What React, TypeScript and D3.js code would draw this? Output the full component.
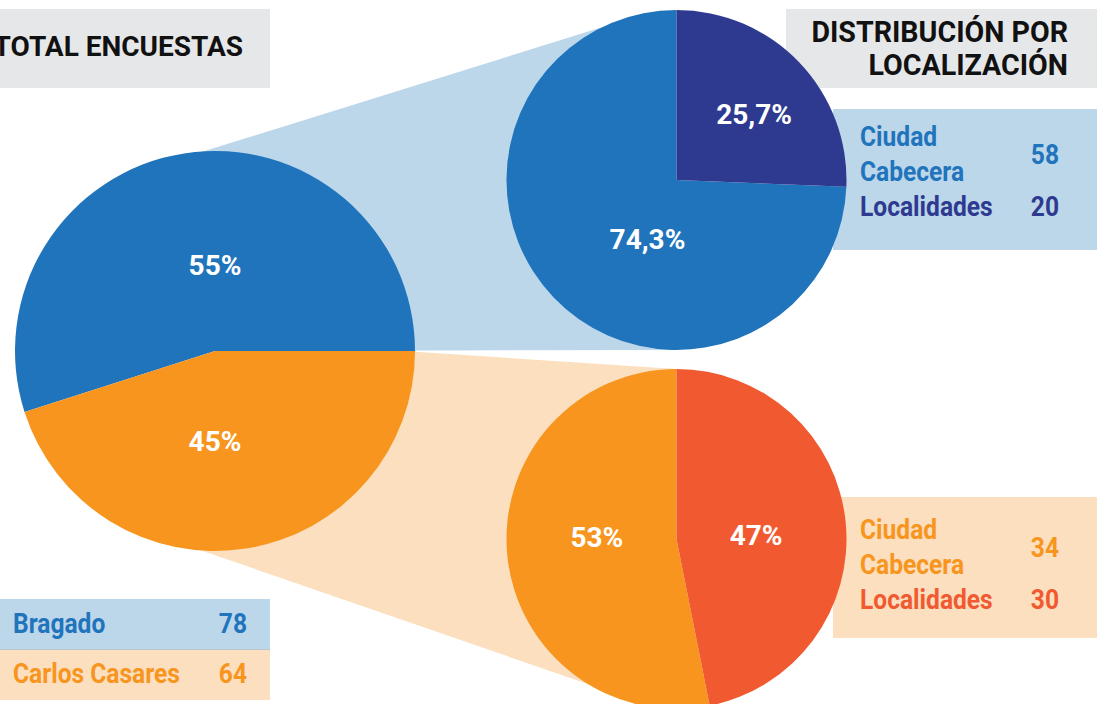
import React, { useEffect, useRef } from 'react';
import * as d3 from 'd3';

// Encuestas por partido
const regions = ['Bragado', 'Carlos Casares'];
const regionCounts = [78, 64];
const regionShares = ['55%', '45%'];

// Distribución por localización
const locationTypes = ['Ciudad Cabecera', 'Localidades'];
const bragadoCounts = [58, 20];
const bragadoShares = ['74,3%', '25,7%'];
const casaresCounts = [34, 30];
const casaresShares = ['53%', '47%'];

const titleTotal = 'TOTAL ENCUESTAS';
const titleLocation = ['DISTRIBUCIÓN POR', 'LOCALIZACIÓN'];

const W = 1097;
const H = 704;
const FONT = 'Roboto, "Noto Sans", sans-serif';

const colors = {
  blue: '#1f74bb',
  navy: '#2e3a8f',
  orange: '#f7951f',
  red: '#f15a31',
  lightBlue: '#bcd6ea',
  lightOrange: '#fbdfbe',
  gray: '#e6e7e8',
};

type Pt = [number, number];

// external tangent between two circles (side -1 = upper, +1 = lower)
const tangent = (c1: Pt, r1: number, c2: Pt, r2: number, side: number): Pt[] => {
  const dx = c2[0] - c1[0];
  const dy = c2[1] - c1[1];
  const theta = Math.atan2(dy, dx);
  const phi = Math.acos((r1 - r2) / Math.hypot(dx, dy));
  const a = theta + side * phi;
  return [
    [c1[0] + r1 * Math.cos(a), c1[1] + r1 * Math.sin(a)],
    [c2[0] + r2 * Math.cos(a), c2[1] + r2 * Math.sin(a)],
  ];
};

const App = () => {
  const ref = useRef<SVGSVGElement>(null);

  useEffect(() => {
    const svg = d3.select(ref.current);
    svg.selectAll('*').remove();

    const main = { c: [215, 351] as Pt, r: 200 };
    const top = { c: [676.5, 180] as Pt, r: 170 };
    const bot = { c: [676.5, 539] as Pt, r: 170 };

    // connector wedges
    const [t1, t2] = tangent(main.c, main.r - 6, top.c, top.r - 2, -1);
    const [b1, b2] = tangent(main.c, main.r - 7, bot.c, bot.r - 4, 1);
    const line = d3.line();
    svg.append('path')
      .attr('d', line([t1, t2, [top.c[0], top.c[1] + top.r], [main.c[0] + main.r, main.c[1] - 0.5]]) + 'Z')
      .attr('fill', colors.lightBlue);
    svg.append('path')
      .attr('d', line([[main.c[0] + main.r, main.c[1] + 0.8], [bot.c[0], bot.c[1] - bot.r], b2, b1]) + 'Z')
      .attr('fill', colors.lightOrange);

    // header boxes
    svg.append('rect').attr('x', 0).attr('y', 9).attr('width', 270).attr('height', 79).attr('fill', colors.gray);
    svg.append('text')
      .attr('x', 243).attr('y', 56)
      .attr('text-anchor', 'end')
      .style('font-family', FONT).style('font-weight', 700).style('font-size', '28px')
      .attr('fill', '#111')
      .text(titleTotal);

    svg.append('rect').attr('x', 786).attr('y', 9).attr('width', W - 786).attr('height', 79).attr('fill', colors.gray);
    titleLocation.forEach((t, i) => {
      svg.append('text')
        .attr('x', 1068).attr('y', 42 + i * 33)
        .attr('text-anchor', 'end')
        .style('font-family', FONT).style('font-weight', 700).style('font-size', '28.6px')
        .attr('fill', '#111')
        .text(t);
    });

    // condensed label helper
    const condText = (x: number, y: number, txt: string, fill: string, anchor = 'start') => {
      svg.append('g')
        .attr('transform', `translate(${x},${y}) scale(0.91,1)`)
        .append('text')
        .attr('text-anchor', anchor)
        .style('font-family', FONT).style('font-weight', 700).style('font-size', '27px')
        .attr('fill', fill)
        .text(txt);
    };

    // location legends
    const locLegend = (y: number, baseY: number, counts: number[], fills: string[], bg: string) => {
      svg.append('rect').attr('x', 833).attr('y', y).attr('width', W - 833).attr('height', 141).attr('fill', bg);
      locationTypes.forEach((name, i) => {
        const words = name.split(' ');
        const rowY = baseY + i * 70;
        words.forEach((w, j) => condText(860, rowY + j * 35, w, fills[i]));
        condText(1059, rowY + (words.length - 1) * 17.5, String(counts[i]), fills[i], 'end');
      });
    };
    locLegend(109, 146, bragadoCounts, [colors.blue, colors.navy], colors.lightBlue);
    locLegend(497, 539, casaresCounts, [colors.orange, colors.red], colors.lightOrange);

    // region legend
    const regionBg = [colors.lightBlue, colors.lightOrange];
    const regionFg = [colors.blue, colors.orange];
    regions.forEach((name, i) => {
      const y = 599 + i * 50;
      svg.append('rect').attr('x', 0).attr('y', y).attr('width', 270).attr('height', i ? 51 : 50).attr('fill', regionBg[i]);
      condText(13, y + 34, name, regionFg[i]);
      condText(247, y + 34, String(regionCounts[i]), regionFg[i], 'end');
    });
    svg.append('line')
      .attr('x1', 0).attr('x2', 270).attr('y1', 649.5).attr('y2', 649.5)
      .attr('stroke', '#b8c6d2').attr('stroke-width', 1);

    const labelStyle = (sel: any) => sel
      .attr('text-anchor', 'middle')
      .attr('dy', '0.36em')
      .style('font-family', FONT).style('font-weight', 700).style('font-size', '28px')
      .attr('fill', '#fff');

    // main pie
    const mainPie = d3.pie<number>().sort(null)
      .startAngle(Math.PI / 2).endAngle(Math.PI / 2 - 2 * Math.PI);
    const mainArc = d3.arc<d3.PieArcDatum<number>>().innerRadius(0).outerRadius(main.r);
    const mainLabel = d3.arc<d3.PieArcDatum<number>>().innerRadius(main.r * 0.44).outerRadius(main.r * 0.44);
    const gMain = svg.append('g').attr('transform', `translate(${main.c})`);
    const mainArcs = mainPie(regionCounts);
    gMain.selectAll('path').data(mainArcs).enter().append('path')
      .attr('d', mainArc)
      .attr('fill', (d, i) => regionFg[i]);
    gMain.selectAll('text').data(mainArcs).enter().append('text')
      .attr('x', 0)
      .attr('y', (d, i) => mainLabel.centroid(d)[1] + (i ? 3 : 1))
      .call(labelStyle)
      .text((d, i) => regionShares[i]);

    // location pies
    const locPie = d3.pie<number>().sort(null).startAngle(0).endAngle(-2 * Math.PI);
    const drawLoc = (pos: { c: Pt, r: number }, counts: number[], shares: string[], fills: string[],
      radii: number[], nudge: Pt[]) => {
      const arc = d3.arc<d3.PieArcDatum<number>>().innerRadius(0).outerRadius(pos.r);
      const g = svg.append('g').attr('transform', `translate(${pos.c})`);
      const arcs = locPie(counts);
      g.selectAll('path').data(arcs).enter().append('path')
        .attr('d', arc)
        .attr('fill', (d, i) => fills[i]);
      g.selectAll('text').data(arcs).enter().append('text')
        .attr('transform', (d, i) => {
          const la = d3.arc<d3.PieArcDatum<number>>().innerRadius(radii[i]).outerRadius(radii[i]);
          const [x, y] = la.centroid(d);
          return `translate(${x + nudge[i][0]},${y + nudge[i][1]})`;
        })
        .call(labelStyle)
        .text((d, i) => shares[i]);
    };
    drawLoc(top, bragadoCounts, bragadoShares, [colors.blue, colors.navy], [68, 102], [[20, 12], [4, 5]]);
    drawLoc(bot, casaresCounts, casaresShares, [colors.orange, colors.red], [80, 80], [[0, -10], [0, 4]]);
  }, []);

  return (
    <div style={{ position: 'absolute', left: 0, top: 0 }}>
      <svg ref={ref} width={W} height={H} style={{ display: 'block' }}></svg>
    </div>
  );
};

export default App;
